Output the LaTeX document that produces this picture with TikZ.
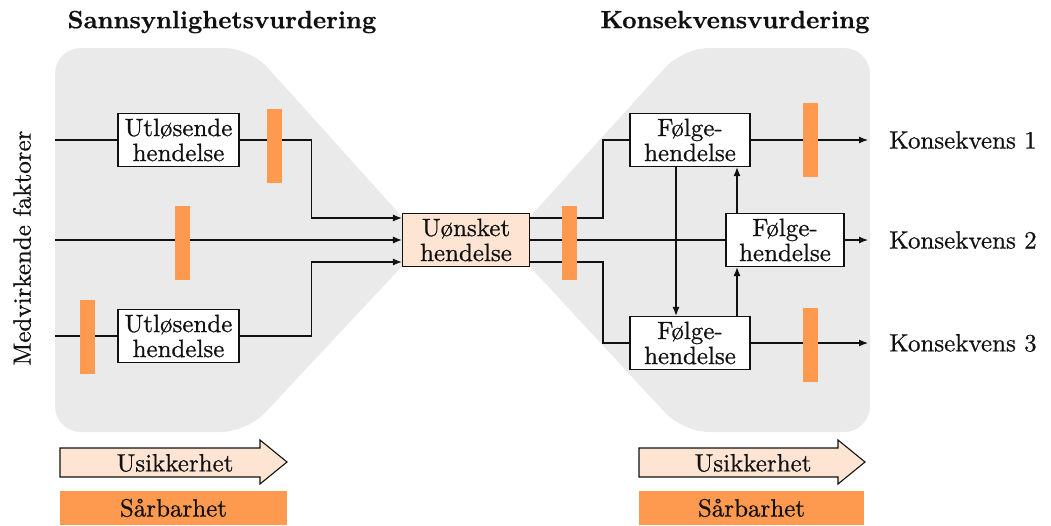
\documentclass[tikz,border=0pt]{standalone}
\usepackage{fontspec}
\usetikzlibrary{arrows.meta,calc}
\newfontfamily\bodyfont{lmroman10-regular.otf}[FakeBold=0.7]
\newfontfamily\headfont{lmroman10-bold.otf}[FakeBold=0.5]
\definecolor{bggray}{HTML}{EAEAEA}
\definecolor{orng}{HTML}{FD9A50}
\definecolor{peach}{HTML}{FDE4D3}
\definecolor{ink}{HTML}{111111}
\begin{document}
\begin{tikzpicture}[x=1pt,y=-1pt,
  every node/.style={font=\bodyfont\fontsize{25}{25}\selectfont, text=ink},
  box/.style={draw=ink, line width=1.1pt, fill=white, align=center, inner sep=0pt, minimum width=121pt, minimum height=53pt},
  ln/.style={line width=1.2pt, draw=ink},
  arr/.style={ln, -{Latex[length=9pt,width=7pt]}},
  bar/.style={fill=orng, minimum width=15pt, minimum height=74pt, inner sep=0pt},
  bigarrow/.style={draw=ink, line width=1.1pt, fill=peach},
  title/.style={font=\headfont\fontsize{25}{25}\selectfont},
  band/.style={fill=orng, minimum height=34pt, inner sep=0pt},
  plain/.style={inner sep=0pt},
]
\useasboundingbox (0,0) rectangle (1051,525);

% grey backgrounds
\fill[bggray, rounded corners=26pt] (150,48) -- (250,48) -- (424.8,242) -- (247,432) -- (55,432) -- (55,48) -- cycle;
\fill[bggray, rounded corners=26pt] (780,48) -- (870,48) -- (870,432) -- (683,432) -- (507,242) -- (683,48) -- cycle;

% titles
\node[title] (T1) at (222,22) {Sannsynlighetsvurdering};
\node[title] (T2) at (735,22) {Konsekvensvurdering};
\node[rotate=90] (M) at (22,248) {Medvirkende faktorer};

% event boxes
\node[box] (U1) at (178.5,140) {Utløsende\\hendelse};
\node[box] (U2) at (178.5,336) {Utløsende\\hendelse};
\node[box, fill=peach, minimum width=127pt] (C) at (466,240) {Uønsket\\hendelse};
\node[box, minimum width=120pt] (F1) at (690,140) {Følge-\\hendelse};
\node[box, minimum width=118pt] (F2) at (785,240) {Følge-\\hendelse};
\node[box, minimum width=120pt] (F3) at (690,343) {Følge-\\hendelse};

\node[anchor=west, plain] (K1) at (889,140) {Konsekvens 1};
\node[anchor=west, plain] (K2) at (889,240) {Konsekvens 2};
\node[anchor=west, plain] (K3) at (889,343) {Konsekvens 3};

\coordinate (s1) at (55,140);
\coordinate (s2) at (55,240);
\coordinate (s3) at (55,336);

% connectors left
\draw[ln] (s1) -- (U1.west);
\draw[arr] (U1.east) -- ++(72,0) |- ([yshift=22pt]C.west);
\draw[arr] (s2) -- (C.west);
\draw[ln] (s3) -- (U2.west);
\draw[arr] (U2.east) -- ++(72,0) |- ([yshift=-22pt]C.west);

% connectors right
\draw[ln] ([yshift=22pt]C.east) -- ++(73,0) |- (F1.west);
\draw[ln] (C.east) -- (F2.west);
\draw[ln] ([yshift=-22pt]C.east) -- ++(73,0) |- (F3.west);
\draw[arr] (F1.east) -- ([xshift=-21pt]K1.west);
\draw[arr] (F2.east) -- ([xshift=-21pt]K2.west);
\draw[arr] (F3.east) -- ([xshift=-21pt]K3.west);
\draw[arr] ([xshift=-14pt]F1.south) -- ([xshift=-14pt]F3.north);
\draw[arr] ([xshift=47pt]F3.north) -- ([xshift=-48pt]F2.south);
\draw[arr] ([xshift=-48pt]F2.north) -- ([xshift=47pt]F1.south);

% barriers
\node[bar] (b1) at (274.5,146) {};
\node[bar] (b2) at (182,243) {};
\node[bar] (b3) at (87,337) {};
\node[bar] (b4) at (569.5,243) {};
\node[bar] (b5) at (810,139.5) {};
\node[bar] (b6) at (810,345) {};

% uncertainty arrows
\draw[bigarrow] (60,448) -- (260,448) -- (260,440) -- (287,462) -- (260,484) -- (260,477) -- (60,477) -- cycle;
\node (A1) at (175,463) {Usikkerhet};
\draw[bigarrow] (639,448) -- (838,448) -- (838,440) -- (865,462) -- (838,484) -- (838,477) -- (639,477) -- cycle;
\node (A2) at (753,463) {Usikkerhet};

% vulnerability bands
\node[band, minimum width=227pt] (S1) at (173.5,508) {Sårbarhet};
\node[band, minimum width=225pt] (S2) at (751.5,508) {Sårbarhet};
\end{tikzpicture}
\end{document}
